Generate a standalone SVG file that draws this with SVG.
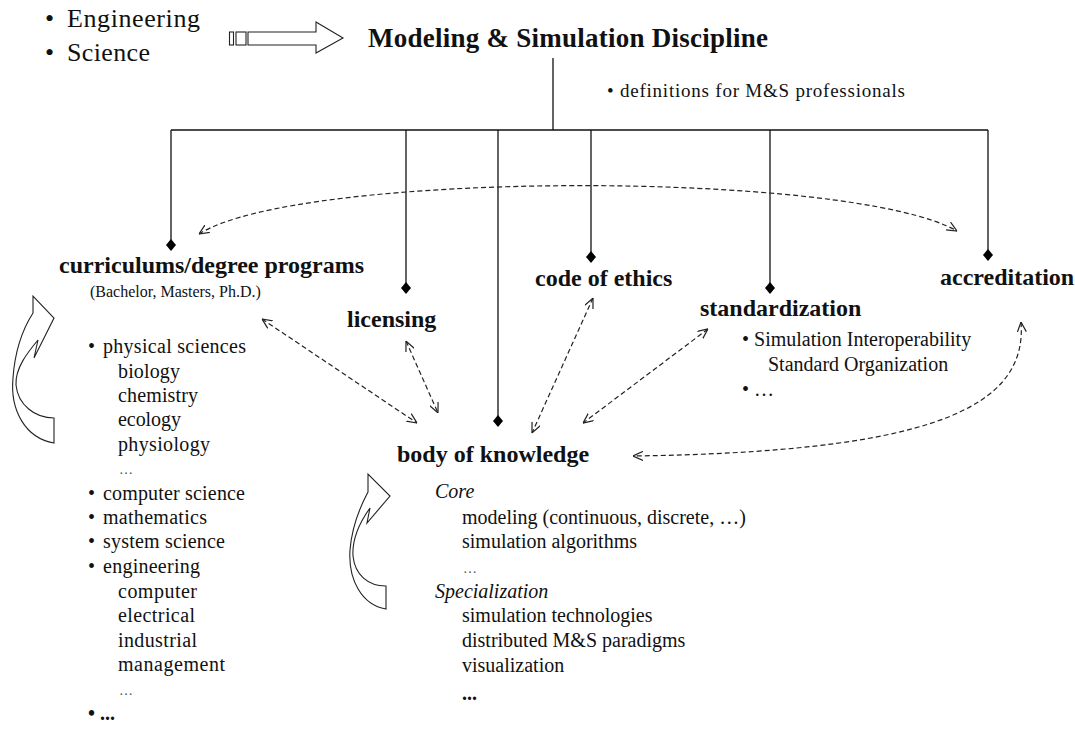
<svg xmlns="http://www.w3.org/2000/svg" width="1075" height="734" viewBox="0 0 1075 734">
<style>
text{font-family:"Liberation Serif","Times New Roman",serif;fill:#111}
.big{font-size:26px}
.title{font-size:27px;font-weight:bold}
.lbl{font-size:24px;font-weight:bold}
.li{font-size:20px}
.sm{font-size:16px}
.it{font-style:italic}
.dots{font-size:14px;fill:#555}
.solid{stroke:#111;stroke-width:1.3;fill:none}
.dash{stroke:#222;stroke-width:1.2;fill:none;stroke-dasharray:5 3}
.dia{fill:#000}
.hollow{fill:#fff;stroke:#222;stroke-width:1.1}
</style>
<defs>
<marker id="ah" viewBox="0 0 10 10" refX="10" refY="5" markerWidth="10" markerHeight="10" markerUnits="userSpaceOnUse" orient="auto-start-reverse">
<path d="M0,0.5 L10,5 L0,9.5" fill="none" stroke="#222" stroke-width="1.2"/>
</marker>
</defs>
<rect width="1075" height="734" fill="#fff"/>

<g id="sources">
<text class="big" x="45" y="27">•</text>
<text class="big" x="67" y="27" textLength="133">Engineering</text>
<text class="big" x="45" y="61">•</text>
<text class="big" x="67" y="61" textLength="83">Science</text>
<g id="bigarrow">
<rect class="hollow" x="229.5" y="32" width="4" height="13"/>
<rect class="hollow" x="236" y="32" width="10" height="13"/>
<path class="hollow" d="M248,32 L316,32 L316,22 L343,38 L316,53 L316,45 L248,45 Z"/>
</g>
</g>

<g id="discipline">
<text class="title" x="368" y="47" textLength="400">Modeling &amp; Simulation Discipline</text>
<text class="li" x="607" y="97" style="font-size:19px" textLength="298">• definitions for M&amp;S professionals</text>
</g>

<g id="connectors">
<path class="solid" d="M553,58 V130 M171,130 H988 M171,130 V240 M406,130 V283 M498,130 V416 M591,130 V252 M770,130 V283 M988,130 V250"/>
<polygon class="dia" points="171,239 176,245 171,251 166,245"/>
<polygon class="dia" points="406,282 411,288 406,294 401,288"/>
<polygon class="dia" points="498,415 503,421 498,427 493,421"/>
<polygon class="dia" points="591,251 596,257 591,263 586,257"/>
<polygon class="dia" points="770,282 775,288 770,294 765,288"/>
<polygon class="dia" points="988,249 993,255 988,261 983,255"/>
<path class="dash" d="M199,234 C300,170 850,170 957,231" marker-start="url(#ah)" marker-end="url(#ah)"/>
<path class="dash" d="M262,319 L417,423" marker-start="url(#ah)" marker-end="url(#ah)"/>
<path class="dash" d="M406,341 L438,413" marker-start="url(#ah)" marker-end="url(#ah)"/>
<path class="dash" d="M593,298 L532,433" marker-start="url(#ah)" marker-end="url(#ah)"/>
<path class="dash" d="M708,329 L583,423" marker-start="url(#ah)" marker-end="url(#ah)"/>
<path class="dash" d="M1021,322 C1028,410 925,452 633,456" marker-start="url(#ah)" marker-end="url(#ah)"/>
</g>

<g id="curriculums">
<text class="lbl" x="59" y="273">curriculums/degree programs</text>
<text class="sm" x="90" y="297">(Bachelor, Masters, Ph.D.)</text>
<path class="hollow" d="M54,443 C25,438 10,410 13,378 C15,350 24,327 33,313 L33,296 L54,318 L34,358 L38,340 C28,352 15,368 16,385 C18,405 35,418 54,418 Z"/>
<text class="li" x="88" y="353">•</text><text class="li" x="103" y="353" textLength="143">physical sciences</text>
<text class="li" x="118" y="378" textLength="62">biology</text>
<text class="li" x="118" y="402" textLength="80">chemistry</text>
<text class="li" x="118" y="426" textLength="63">ecology</text>
<text class="li" x="118" y="451" textLength="92">physiology</text>
<text class="dots" x="119" y="474">…</text>
<text class="li" x="88" y="500">•</text><text class="li" x="103" y="500" textLength="142">computer science</text>
<text class="li" x="88" y="524">•</text><text class="li" x="103" y="524" textLength="104">mathematics</text>
<text class="li" x="88" y="548">•</text><text class="li" x="103" y="548" textLength="122">system science</text>
<text class="li" x="88" y="573">•</text><text class="li" x="103" y="573" textLength="97">engineering</text>
<text class="li" x="118" y="598" textLength="79">computer</text>
<text class="li" x="118" y="622" textLength="77">electrical</text>
<text class="li" x="118" y="647" textLength="79">industrial</text>
<text class="li" x="118" y="671" textLength="107">management</text>
<text class="dots" x="119" y="695">…</text>
<text class="li" x="88" y="720" style="font-weight:bold">• ...</text>
</g>

<g id="licensing">
<text class="lbl" x="347" y="327">licensing</text>
</g>

<g id="ethics">
<text class="lbl" x="535" y="286">code of ethics</text>
</g>

<g id="standardization">
<text class="lbl" x="700" y="316">standardization</text>
<text class="li" x="742" y="346">• Simulation Interoperability</text>
<text class="li" x="768" y="371">Standard Organization</text>
<text class="li" x="742" y="396">• …</text>
</g>

<g id="accreditation">
<text class="lbl" x="940" y="285">accreditation</text>
</g>

<g id="body">
<text class="lbl" x="397" y="462">body of knowledge</text>
<path class="hollow" d="M386,609 C362,605 348,580 350,550 C352,525 360,507 368,492 L368,474 L390,496 L367,523 L370,508 C360,522 352,540 353,556 C355,575 368,586 386,586 Z"/>
<text class="li it" x="435" y="498">Core</text>
<text class="li" x="462" y="524">modeling (continuous, discrete, …)</text>
<text class="li" x="462" y="548">simulation algorithms</text>
<text class="dots" x="463" y="573">…</text>
<text class="li it" x="435" y="598">Specialization</text>
<text class="li" x="462" y="622">simulation technologies</text>
<text class="li" x="462" y="647">distributed M&amp;S paradigms</text>
<text class="li" x="462" y="672">visualization</text>
<text class="li" x="462" y="700" style="font-weight:bold">...</text>
</g>
</svg>
